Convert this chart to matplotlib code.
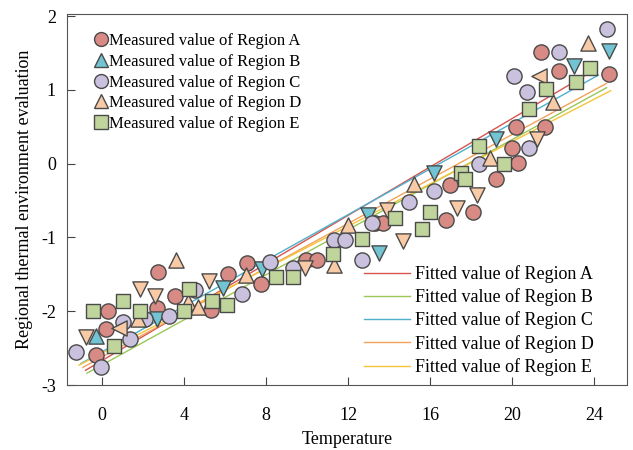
import numpy as np
import matplotlib.pyplot as plt
from matplotlib.lines import Line2D

plt.rcParams['font.family'] = ['Liberation Serif', 'DejaVu Serif']
plt.rcParams['axes.unicode_minus'] = False

# measured values (temperature, evaluation)
a_x = [-0.3, 0.2, 0.3, 2.7, 2.74, 3.57, 5.33, 6.16, 7.09, 7.77, 9.97, 10.46, 13.3, 13.7,
       16.76, 16.96, 18.1, 19.2, 20.0, 20.2, 20.3, 21.4, 21.6, 22.3, 24.7]
a_y = [-2.59, -2.24, -2.0, -1.96, -1.47, -1.80, -1.98, -1.50, -1.35, -1.63, -1.31, -1.31, -0.80, -0.80,
       -0.76, -0.29, -0.65, -0.21, 0.21, 0.50, 0.01, 1.51, 0.50, 1.26, 1.22]

b_x = [-0.3, 2.7, 5.9, 7.8, 12.95, 13.5, 16.2, 19.2, 23.0, 24.7]
b_y = [-2.33, -2.1, -1.69, -1.43, -0.70, -1.21, -0.12, 0.34, 1.33, 1.53]

c_x = [-1.27, -0.05, 1.03, 1.37, 2.1, 3.27, 4.55, 6.84, 8.2, 9.3, 11.3, 11.83, 12.66, 13.15,
       14.96, 16.2, 18.4, 20.1, 20.7, 20.8, 22.3, 24.6]
c_y = [-2.55, -2.75, -2.14, -2.37, -2.1, -2.07, -1.71, -1.76, -1.33, -1.41, -1.03, -1.03, -1.30, -0.81,
       -0.52, -0.37, -0.01, 1.19, 0.97, 0.21, 1.51, 1.82]

d_x = [-0.78, 0.83, 1.76, 1.86, 2.6, 3.6, 4.2, 4.7, 5.23, 7.0, 9.9, 11.3, 12.0, 13.9, 14.67,
       15.2, 17.3, 18.3, 18.9, 21.2, 21.3, 22.0, 23.7]
d_y = [-2.35, -2.23, -2.1, -1.70, -1.79, -1.30, -1.87, -1.94, -1.59, -1.51, -1.41, -1.37, -0.83, -0.63, -1.05,
       -0.27, -0.6, -0.43, 0.08, 0.34, 1.19, 0.84, 1.64]

e_x = [-0.44, 0.59, 1.03, 1.86, 4.0, 4.25, 5.38, 6.1, 8.46, 9.33, 11.24, 12.7, 14.3, 15.6, 16.0,
       17.5, 17.7, 18.4, 19.6, 20.8, 21.65, 23.1, 23.8]
e_y = [-2.0, -2.47, -1.86, -1.99, -1.99, -1.70, -1.86, -1.91, -1.54, -1.53, -1.22, -1.02, -0.73, -0.89, -0.65,
       -0.12, -0.21, 0.24, -0.01, 0.74, 1.01, 1.11, 1.30]

# fitted lines: slope, intercept, x range
fit_slope = [0.1641, 0.1528, 0.155, 0.1508, 0.1435]
fit_icpt = [-2.669, -2.728, -2.550, -2.620, -2.569]
fit_x0 = [-0.8, -0.73, -1.03, -0.93, -1.12]
fit_x1 = [24.0, 24.6, 24.2, 24.6, 24.8]

regions = ['A', 'B', 'C', 'D', 'E']

# triangle orientations as they appear
b_marks = '^vvvvvvvvv'
d_marks = 'v<^vv^^^v^v^^vv^vv^v<^^'

pt_col = ['#d88a84', '#72c4d2', '#c9c1dd', '#f9caa6', '#bfd59c']
ln_col = ['#d9534f', '#9cc656', '#4fb0cc', '#f4a25a', '#f5c43a']
edge = '#4a4a4a'

fig = plt.figure(figsize=(6.33, 4.5), dpi=100)
ax = fig.add_axes([0.106, 0.1444, 0.8847, 0.8246])

for i in range(5):
    xs = np.array([fit_x0[i], fit_x1[i]])
    ax.plot(xs, fit_slope[i] * xs + fit_icpt[i], color=ln_col[i], lw=1, zorder=2)

ms = 120
ax.scatter(a_x, a_y, s=ms, marker='o', c=pt_col[0], edgecolors=edge, linewidths=1, zorder=3)
for x, y, m in zip(b_x, b_y, b_marks):
    ax.scatter(x, y, s=ms, marker=m, c=pt_col[1], edgecolors=edge, linewidths=1, zorder=3)
ax.scatter(c_x, c_y, s=ms, marker='o', c=pt_col[2], edgecolors=edge, linewidths=1, zorder=3)
for x, y, m in zip(d_x, d_y, d_marks):
    ax.scatter(x, y, s=ms, marker=m, c=pt_col[3], edgecolors=edge, linewidths=1, zorder=3)
ax.scatter(e_x, e_y, s=105, marker='s', c=pt_col[4], edgecolors=edge, linewidths=1, zorder=3)

ax.set_xlim(-1.7, 25.6)
ax.set_ylim(-3, 2.03)
ax.set_xticks([0, 4, 8, 12, 16, 20, 24])
ax.set_yticks([-3, -2, -1, 0, 1, 2])
ax.tick_params(direction='in', labelsize=13, length=6, color='#444444')
ax.tick_params(axis='x', pad=16)
ax.tick_params(axis='y', pad=8)
for s in ax.spines.values():
    s.set_color('#555555')
ax.set_xlabel('Temperature', fontsize=13, labelpad=5)
ax.set_ylabel('Regional thermal environment evaluation', fontsize=13, labelpad=6)

mk = ['o', '^', 'o', '^', 's']
h1 = [Line2D([], [], ls='none', marker=mk[i], ms=10, mfc=pt_col[i], mec=edge, mew=1)
      for i in range(5)]
leg1 = ax.legend(h1, ['Measured value of Region ' + r for r in regions], loc='upper left',
                 bbox_to_anchor=(0.03, 0.975), frameon=False, fontsize=12, handlelength=0.8,
                 handletextpad=0.1, labelspacing=0.28, borderaxespad=0.2)
ax.add_artist(leg1)

h2 = [Line2D([], [], color=ln_col[i], lw=1) for i in range(5)]
ax.legend(h2, ['Fitted value of Region ' + r for r in regions], loc='lower right',
          bbox_to_anchor=(0.96, -0.005), frameon=False, fontsize=13, handlelength=2.5,
          handletextpad=0.3, labelspacing=0.3, borderaxespad=0.2)

fig.savefig('out.png', dpi=100)
